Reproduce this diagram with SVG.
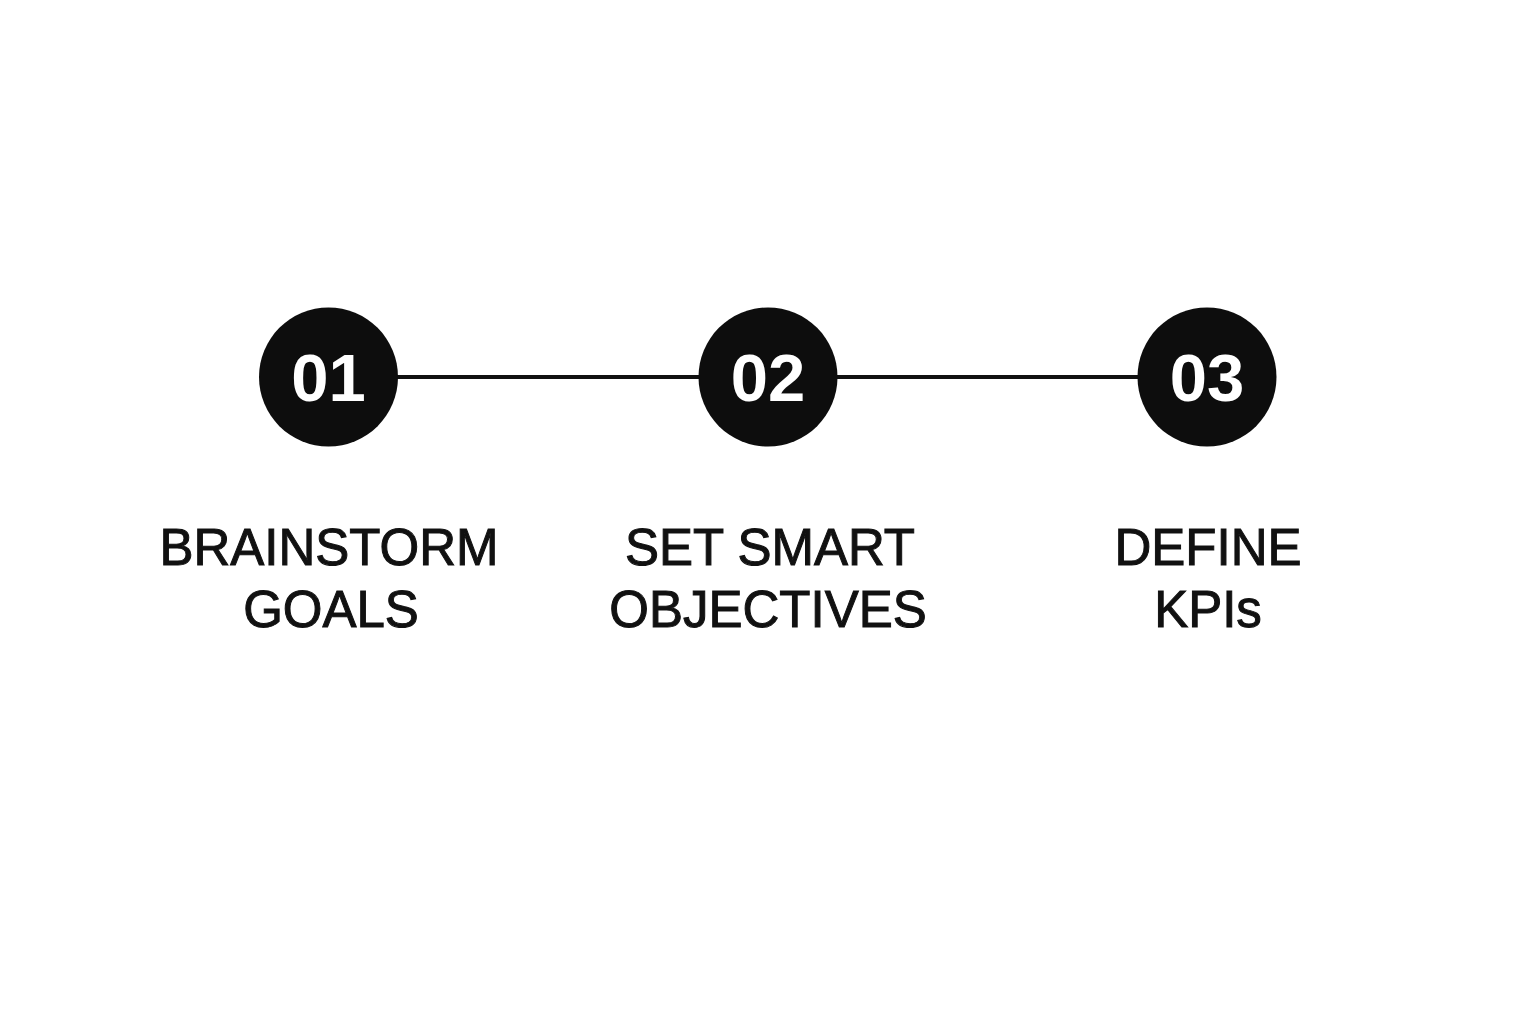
<svg xmlns="http://www.w3.org/2000/svg" width="1536" height="1024" viewBox="0 0 1536 1024">
<style>
.circ{fill:#0d0d0d}
.num{font-family:"Liberation Sans",Arial,sans-serif;font-weight:bold;font-size:67px;fill:#ffffff;text-anchor:middle}
.lbl{font-family:"Liberation Sans",Arial,sans-serif;font-size:51px;fill:#111111;stroke:#111111;stroke-width:1;text-anchor:middle}
.conn{stroke:#111111;stroke-width:4;fill:none}
</style>
<rect width="1536" height="1024" fill="#ffffff"/>
<g id="connectors">
<line class="conn" x1="396" y1="377" x2="700" y2="377"/>
<line class="conn" x1="836" y1="377" x2="1139" y2="377"/>
</g>
<g id="node1">
<circle class="circ" cx="328.5" cy="377" r="69.5"/>
<text class="num" x="328.5" y="401">01</text>
<text class="lbl" x="329" y="565">BRAINSTORM</text>
<text class="lbl" x="331" y="627">GOALS</text>
</g>
<g id="node2">
<circle class="circ" cx="768" cy="377" r="69.5"/>
<text class="num" x="768" y="401">02</text>
<text class="lbl" x="770" y="565">SET SMART</text>
<text class="lbl" x="768" y="627">OBJECTIVES</text>
</g>
<g id="node3">
<circle class="circ" cx="1207" cy="377" r="69.5"/>
<text class="num" x="1207" y="401">03</text>
<text class="lbl" x="1208" y="565">DEFINE</text>
<text class="lbl" x="1208" y="627">KPIs</text>
</g>
</svg>
